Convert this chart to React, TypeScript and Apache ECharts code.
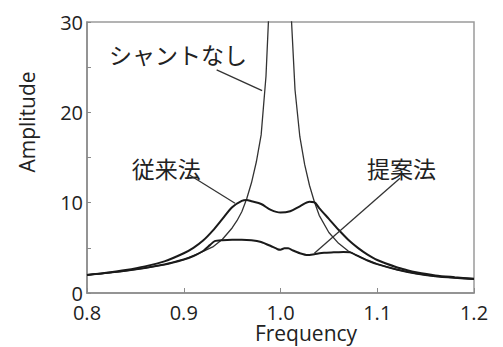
import React, { useEffect, useRef } from "react";
import * as echarts from "echarts";

// ---- Data ----
const freqNoShunt = [0.8, 0.82, 0.84, 0.86, 0.88, 0.9, 0.91, 0.92, 0.93, 0.94, 0.95, 0.955, 0.96, 0.965, 0.97, 0.975, 0.98, 0.985, 0.99, 0.995, 1.0, 1.005, 1.01, 1.015, 1.02, 1.025, 1.03, 1.035, 1.04, 1.05, 1.06, 1.07, 1.08, 1.09, 1.1, 1.12, 1.14, 1.16, 1.18, 1.2];
const ampNoShunt = [2.0, 2.2, 2.45, 2.75, 3.15, 3.7, 4.1, 4.6, 5.1, 5.95, 7.2, 8.0, 9.0, 10.4, 12.2, 14.5, 17.5, 24, 36, 60, 90, 60, 33, 22.5, 17.3, 14.2, 11.9, 10.1, 8.6, 6.7, 5.5, 4.65, 4.1, 3.6, 3.2, 2.6, 2.15, 1.85, 1.68, 1.55];

const freqConventional = [0.8, 0.82, 0.84, 0.86, 0.88, 0.9, 0.91, 0.92, 0.93, 0.94, 0.95, 0.96, 0.965, 0.97, 0.98, 0.99, 1.0, 1.01, 1.02, 1.03, 1.035, 1.04, 1.05, 1.06, 1.07, 1.08, 1.09, 1.1, 1.12, 1.13, 1.14, 1.16, 1.18, 1.2];
const ampConventional = [2.0, 2.25, 2.55, 2.95, 3.5, 4.4, 5.0, 5.8, 6.9, 8.2, 9.5, 10.2, 10.3, 10.15, 9.85, 9.2, 8.9, 9.05, 9.6, 10.1, 10.05, 9.4, 8.2, 7.0, 5.9, 5.0, 4.25, 3.65, 2.85, 2.55, 2.3, 1.95, 1.75, 1.58];

const freqProposed = [0.8, 0.84, 0.88, 0.9, 0.91, 0.92, 0.927, 0.932, 0.94, 0.95, 0.96, 0.97, 0.98, 0.99, 0.997, 1.0, 1.004, 1.008, 1.013, 1.02, 1.028, 1.035, 1.045, 1.055, 1.065, 1.072, 1.08, 1.09, 1.1, 1.12, 1.14, 1.16, 1.18, 1.2];
const ampProposed = [2.0, 2.45, 3.15, 3.7, 4.1, 4.65, 5.3, 5.75, 5.85, 5.9, 5.9, 5.85, 5.65, 5.2, 4.85, 4.8, 4.95, 4.95, 4.7, 4.4, 4.2, 4.3, 4.45, 4.5, 4.55, 4.5, 4.1, 3.6, 3.2, 2.6, 2.15, 1.85, 1.68, 1.55];

const xTicks = [0.8, 0.9, 1.0, 1.1, 1.2];
const yTicks = [0, 10, 20, 30];

// annotation labels: [text, labelF, labelA, lineFromF, lineFromA, lineToF, lineToA]
const annotations: [string, number, number, number, number, number, number][] = [
  ["シャントなし", 0.894, 26.45, 0.934, 24.7, 0.981, 22.4],
  ["従来法", 0.882, 13.8, 0.906, 13.06, 0.953, 9.93],
  ["提案法", 1.125, 13.8, 1.1235, 12.7, 1.035, 4.4],
];

const zip = (xs: number[], ys: number[]) => xs.map((x, i) => [x, ys[i]]);

export default function App() {
  const ref = useRef<HTMLDivElement>(null);
  useEffect(() => {
    if (!ref.current) return;
    const chart = echarts.init(ref.current, null, { renderer: "svg" });
    const latin = '"Open Sans", "Liberation Sans", sans-serif';
    const cjk = '"Noto Sans CJK JP", sans-serif';
    chart.setOption({
      animation: false,
      backgroundColor: "#fff",
      grid: {
        left: 87,
        right: 29,
        top: 22,
        bottom: 54,
        show: true,
        borderColor: "#9a9a9a",
        borderWidth: 1.5,
        backgroundColor: "transparent",
      },
      xAxis: {
        type: "value",
        min: xTicks[0],
        max: xTicks[xTicks.length - 1],
        interval: 0.1,
        axisLine: { show: true, lineStyle: { color: "#8a8a8a", width: 1.5 } },
        axisTick: { show: true, inside: true, length: 5, lineStyle: { color: "#8a8a8a" } },
        splitLine: { show: false },
        axisLabel: {
          color: "#222",
          fontFamily: latin,
          fontSize: 20,
          margin: 10,
          lineHeight: 18,
          formatter: (v: number) => v.toFixed(1),
        },
      },
      yAxis: {
        type: "value",
        min: yTicks[0],
        max: yTicks[yTicks.length - 1],
        interval: 10,
        axisLine: { show: true, lineStyle: { color: "#8a8a8a", width: 1.5 } },
        axisTick: { show: true, inside: true, length: 4, lineStyle: { color: "#8a8a8a" } },
        minorTick: { show: true, splitNumber: 2, length: 4, lineStyle: { color: "#8a8a8a" } },
        splitLine: { show: false },
        axisLabel: { color: "#222", fontFamily: latin, fontSize: 20, margin: 4, lineHeight: 18 },
      },
      series: [
        {
          type: "line",
          name: "シャントなし",
          data: zip(freqNoShunt, ampNoShunt),
          showSymbol: false,
          symbol: "none",
          clip: true,
          lineStyle: { color: "#333", width: 1.3 },
          z: 3,
        },
        {
          type: "line",
          name: "従来法",
          data: zip(freqConventional, ampConventional),
          showSymbol: false,
          symbol: "none",
          smooth: 0.3,
          clip: true,
          lineStyle: { color: "#1a1a1a", width: 2 },
          z: 4,
        },
        {
          type: "line",
          name: "提案法",
          data: zip(freqProposed, ampProposed),
          showSymbol: false,
          symbol: "none",
          smooth: 0.2,
          clip: true,
          lineStyle: { color: "#1a1a1a", width: 2 },
          z: 4,
        },
      ],
    });

    const px = (f: number, a: number) =>
      chart.convertToPixel({ gridIndex: 0 }, [f, a]) as number[];
    const graphics: any[] = [];
    annotations.forEach(([text, lf, la, f1, a1, f2, a2]) => {
      const lp = px(lf, la);
      const p1 = px(f1, a1);
      const p2 = px(f2, a2);
      graphics.push({
        type: "text",
        x: lp[0],
        y: lp[1],
        style: { text, font: `23px ${cjk}`, fill: "#222", align: "center", verticalAlign: "middle" },
        z: 10,
      });
      graphics.push({
        type: "line",
        shape: { x1: p1[0], y1: p1[1], x2: p2[0], y2: p2[1] },
        style: { stroke: "#333", lineWidth: 1.3 },
        z: 10,
      });
    });
    graphics.push({
      type: "text",
      x: 27,
      y: 122,
      rotation: Math.PI / 2,
      style: { text: "Amplitude", font: `21px ${latin}`, fill: "#222", align: "center", verticalAlign: "middle" },
    });
    graphics.push({
      type: "text",
      x: 306,
      y: 333,
      style: {
        text: "Frequency",
        fontFamily: latin,
        fontSize: 21,
        lineHeight: 20,
        fill: "#222",
        align: "center",
        verticalAlign: "middle",
      },
    });
    chart.setOption({ graphic: graphics });
    return () => chart.dispose();
  }, []);
  return (
    <div
      ref={ref}
      style={{ position: "fixed", left: 0, top: 0, width: 503, height: 347, background: "#fff" }}
    />
  );
}
